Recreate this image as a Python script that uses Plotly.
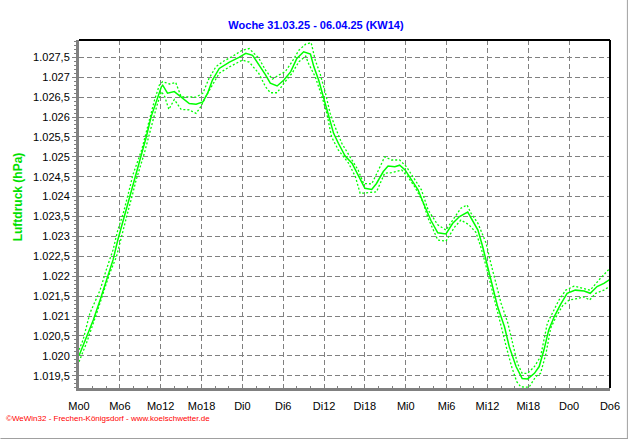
import plotly.graph_objects as go

# ---------------- data ----------------
# hours since Monday 0:00
main_hours = [0.0, 1.1, 2.1, 3.1, 4.0, 5.0, 5.7, 6.5, 7.4, 8.2, 8.9, 9.9, 10.6, 11.4, 12.1, 12.3,
              13.0, 14.0, 15.0, 16.2, 17.2, 18.2, 18.9, 19.6, 20.6, 22.1, 23.5, 24.5, 25.5, 26.4,
              27.4, 28.1, 29.1, 30.1, 31.1, 32.0, 33.0, 34.0, 34.5, 35.2, 35.9, 36.7, 37.4, 38.1,
              39.1, 40.1, 41.1, 42.0, 43.0, 43.7, 44.7, 45.4, 46.4, 47.1, 47.9, 48.8, 49.8, 50.8,
              51.7, 52.7, 53.9, 54.9, 55.9, 57.1, 57.8, 58.6, 59.3, 60.0, 60.8, 61.5, 62.5, 63.2,
              64.2, 65.1, 65.9, 66.9, 67.6, 68.3, 69.0, 69.8, 70.7, 71.7, 72.9, 74.2, 75.1, 76.1,
              77.1, 78.0]
main_values = [1020.00, 1020.48, 1020.90, 1021.40, 1021.90, 1022.41, 1022.91, 1023.41, 1023.99, 1024.42,
               1024.92, 1025.51, 1026.01, 1026.43, 1026.76, 1026.80, 1026.60, 1026.64, 1026.51, 1026.34,
               1026.32, 1026.38, 1026.60, 1026.93, 1027.22, 1027.38, 1027.50, 1027.60, 1027.55, 1027.33,
               1027.06, 1026.85, 1026.78, 1026.93, 1027.14, 1027.47, 1027.64, 1027.58, 1027.26, 1026.93,
               1026.51, 1026.01, 1025.59, 1025.34, 1025.02, 1024.84, 1024.50, 1024.21, 1024.18, 1024.33,
               1024.63, 1024.77, 1024.75, 1024.79, 1024.67, 1024.42, 1024.17, 1023.75, 1023.40, 1023.09,
               1023.06, 1023.33, 1023.50, 1023.61, 1023.41, 1023.16, 1022.74, 1022.24, 1021.74, 1021.23,
               1020.73, 1020.23, 1019.73, 1019.43, 1019.42, 1019.56, 1019.73, 1020.15, 1020.65, 1020.98,
               1021.28, 1021.57, 1021.65, 1021.63, 1021.57, 1021.74, 1021.82, 1021.92]

max_hours = [0.0, 0.6, 1.6, 3.1, 4.0, 5.0, 5.7, 6.5, 7.5, 7.9, 9.2, 10.1, 11.1, 11.8, 12.3, 13.3,
             14.2, 15.0, 16.2, 17.2, 18.2, 19.1, 20.1, 21.1, 22.5, 24.0, 25.0, 26.4, 27.4, 28.4,
             29.4, 30.3, 31.3, 32.3, 33.3, 34.1, 34.7, 35.4, 36.2, 36.9, 37.6, 38.6, 39.8, 41.0,
             41.8, 43.0, 44.0, 44.9, 45.9, 47.1, 48.1, 49.1, 50.3, 51.3, 52.7, 53.9, 55.2, 56.1,
             57.0, 57.6, 58.6, 59.8, 60.5, 61.2, 62.0, 63.0, 63.7, 64.4, 65.1, 65.9, 66.9, 67.8,
             68.8, 69.5, 70.5, 71.5, 72.7, 73.9, 75.1, 76.6, 77.8, 78.0]
max_values = [1020.15, 1020.40, 1021.07, 1021.65, 1022.16, 1022.66, 1023.16, 1023.58, 1024.25, 1024.54,
              1025.17, 1025.76, 1026.43, 1026.80, 1026.89, 1026.83, 1026.87, 1026.51, 1026.50, 1026.50,
              1026.60, 1026.97, 1027.26, 1027.39, 1027.52, 1027.68, 1027.72, 1027.48, 1027.18, 1026.95,
              1027.06, 1027.14, 1027.39, 1027.68, 1027.83, 1027.87, 1027.43, 1027.10, 1026.60, 1026.09,
              1025.76, 1025.34, 1025.00, 1024.67, 1024.33, 1024.32, 1024.67, 1025.00, 1024.92, 1024.92,
              1024.75, 1024.50, 1024.17, 1023.66, 1023.29, 1023.16, 1023.50, 1023.71, 1023.79, 1023.58,
              1023.33, 1022.83, 1022.32, 1021.82, 1021.32, 1020.82, 1020.31, 1019.81, 1019.56, 1019.56,
              1019.73, 1019.98, 1020.82, 1021.07, 1021.40, 1021.65, 1021.75, 1021.70, 1021.65, 1021.95,
              1022.16, 1022.20]

min_hours = [0.0, 1.1, 2.6, 3.5, 4.5, 5.5, 6.2, 7.0, 7.9, 8.4, 9.6, 10.6, 11.4, 12.1, 12.6, 13.2,
             14.0, 15.0, 16.2, 17.2, 17.9, 18.6, 19.6, 20.6, 22.1, 24.0, 25.0, 26.4, 27.4, 28.1,
             29.1, 30.1, 31.3, 32.3, 33.3, 33.7, 34.7, 35.7, 36.4, 37.1, 38.1, 39.6, 40.6, 41.3,
             42.5, 43.7, 44.9, 45.9, 47.4, 48.3, 49.3, 50.5, 51.3, 52.7, 53.9, 55.2, 56.1, 57.3,
             58.3, 59.0, 59.8, 60.5, 61.2, 62.0, 62.8, 63.6, 64.3, 64.9, 66.1, 67.1, 67.8, 68.6,
             69.3, 70.0, 71.0, 72.0, 73.2, 74.2, 75.0, 75.9, 77.1, 78.0]
min_values = [1019.85, 1020.32, 1021.07, 1021.57, 1022.07, 1022.49, 1022.99, 1023.50, 1024.08, 1024.42,
              1025.09, 1025.76, 1026.26, 1026.64, 1026.51, 1026.19, 1026.44, 1026.19, 1026.18, 1026.09,
              1026.26, 1026.51, 1026.80, 1027.10, 1027.26, 1027.43, 1027.38, 1027.10, 1026.76, 1026.61,
              1026.61, 1026.85, 1027.10, 1027.39, 1027.53, 1027.35, 1027.01, 1026.51, 1026.09, 1025.50,
              1025.17, 1024.84, 1024.50, 1024.08, 1024.10, 1024.12, 1024.59, 1024.60, 1024.67, 1024.50,
              1024.25, 1023.87, 1023.45, 1022.91, 1022.88, 1023.24, 1023.41, 1023.29, 1023.10, 1022.75,
              1022.25, 1021.75, 1021.25, 1020.75, 1020.20, 1019.70, 1019.35, 1019.22, 1019.21, 1019.48,
              1019.56, 1020.06, 1020.70, 1020.95, 1021.25, 1021.40, 1021.44, 1021.48, 1021.40, 1021.57,
              1021.65, 1021.75]

x_tick_hours = [0, 6, 12, 18, 24, 30, 36, 42, 48, 54, 60, 66, 72, 78]
x_tick_labels = ["Mo0", "Mo6", "Mo12", "Mo18", "Di0", "Di6", "Di12", "Di18",
                 "Mi0", "Mi6", "Mi12", "Mi18", "Do0", "Do6"]
y_tick_values = [1019.5, 1020.0, 1020.5, 1021.0, 1021.5, 1022.0, 1022.5, 1023.0, 1023.5,
                 1024.0, 1024.5, 1025.0, 1025.5, 1026.0, 1026.5, 1027.0, 1027.5]
y_tick_labels = ["1.019,5", "1.020", "1.020,5", "1.021", "1.021,5", "1.022", "1.022,5", "1.023",
                 "1.023,5", "1.024", "1.024,5", "1.025", "1.025,5", "1.026", "1.026,5", "1.027",
                 "1.027,5"]

title_text = "Woche 31.03.25 - 06.04.25 (KW14)"
y_title_text = "Luftdruck (hPa)"
footer_text = "©WeWin32 - Frechen-Königsdorf - www.koelschwetter.de"

# ---------------- figure ----------------
W, H = 632, 440
L, R, T, B = 79, 19, 40, 52
PW, PH = W - L - R, H - T - B
GREEN = "#00FF00"
FONT = "Liberation Sans, Arial, sans-serif"


def px_to_paper_x(px):
    return (px - L) / PW


def px_to_paper_y(py):
    return (H - B - py) / PH


fig = go.Figure()
fig.add_trace(go.Scatter(x=max_hours, y=max_values, mode="lines",
                         line=dict(color=GREEN, width=1.3, dash="2px,2px"), hoverinfo="skip"))
fig.add_trace(go.Scatter(x=min_hours, y=min_values, mode="lines",
                         line=dict(color=GREEN, width=1.3, dash="2px,2px"), hoverinfo="skip"))
fig.add_trace(go.Scatter(x=main_hours, y=main_values, mode="lines",
                         line=dict(color=GREEN, width=1.5), hoverinfo="skip"))

grid = dict(showgrid=True, gridcolor="#808080", gridwidth=1, griddash="5px,3px", zeroline=False)

fig.update_layout(
    width=W, height=H,
    margin=dict(l=L, r=R, t=T, b=B, pad=0),
    paper_bgcolor="white", plot_bgcolor="white",
    showlegend=False,
    title=dict(text="<b>" + title_text + "</b>", x=0.5, xref="container", xanchor="center",
               y=1 - 25 / H, yref="container", yanchor="middle",
               font=dict(family=FONT, size=11, color="#0000FF")),
    xaxis=dict(range=[0, 78], tickmode="array", tickvals=x_tick_hours, ticktext=x_tick_labels,
               showline=True, linecolor="#808080", linewidth=3,
               ticks="inside", ticklen=4, tickcolor="#808080", tickwidth=1,
               ticklabelstandoff=6,
               minor=dict(tickmode="linear", tick0=0, dtick=2, ticks="inside", ticklen=2,
                          tickcolor="#808080", showgrid=False),
               tickfont=dict(family=FONT, size=11, color="black"), **grid),
    yaxis=dict(range=[1019.191, 1027.935], tickmode="array", tickvals=y_tick_values,
               ticktext=y_tick_labels,
               showline=True, linecolor="#808080", linewidth=3,
               ticks="outside", ticklen=4, tickcolor="#808080", tickwidth=1,
               minor=dict(tickmode="linear", tick0=1019.5, dtick=0.1, ticks="outside", ticklen=2,
                          tickcolor="#808080", showgrid=False),
               tickfont=dict(family=FONT, size=11, color="black"), **grid),
    shapes=[
        dict(type="line", xref="paper", yref="paper", x0=0, x1=1, y0=1, y1=1,
             line=dict(color="black", width=2)),
        dict(type="line", xref="paper", yref="paper", x0=1, x1=1, y0=0, y1=1,
             line=dict(color="black", width=2)),
        dict(type="line", xref="paper", yref="paper", x0=px_to_paper_x(630.5), x1=px_to_paper_x(630.5),
             y0=px_to_paper_y(0), y1=px_to_paper_y(439), line=dict(color="#A0A0A0", width=1)),
        dict(type="line", xref="paper", yref="paper", x0=px_to_paper_x(0), x1=px_to_paper_x(631),
             y0=px_to_paper_y(438.5), y1=px_to_paper_y(438.5), line=dict(color="#A0A0A0", width=1)),
    ],
    annotations=[
        dict(text="<b>" + y_title_text + "</b>", textangle=-90, xref="paper", yref="paper",
             x=px_to_paper_x(18), y=px_to_paper_y(197), xanchor="center", yanchor="middle",
             showarrow=False, font=dict(family=FONT, size=12, color="#00E000")),
        dict(text=footer_text, xref="paper", yref="paper",
             x=px_to_paper_x(4), y=px_to_paper_y(418), xanchor="left", yanchor="middle",
             showarrow=False, font=dict(family=FONT, size=8, color="#FF0000")),
    ],
)

fig.write_html("out.html", config={"displayModeBar": False},
               post_script="document.body.style.margin='0';document.body.style.overflow='hidden';")
